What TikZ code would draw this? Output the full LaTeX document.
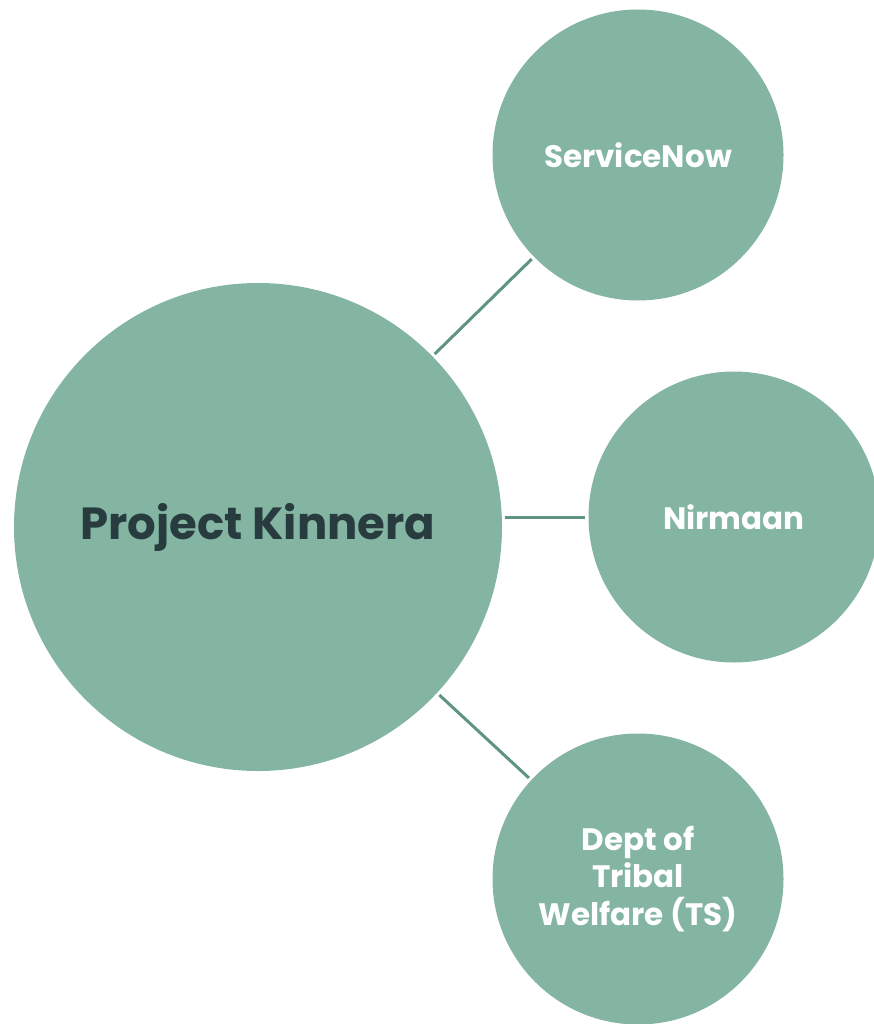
\documentclass[tikz,border=0pt]{standalone}
\usepackage{fontspec}
\setmainfont{Poppins}
\definecolor{bubble}{HTML}{83B5A2}
\definecolor{linkc}{HTML}{5F9483}
\definecolor{darktext}{HTML}{283C40}
\begin{document}
\begin{tikzpicture}[x=1pt,y=-1pt,
  bub/.style={circle,fill=bubble,inner sep=0pt,align=center,text=white,font=\bfseries\fontsize{31}{37.5}\selectfont},
  link/.style={draw=linkc,line width=3pt,shorten <=3pt,shorten >=3pt}]
\useasboundingbox (0,0) rectangle (874,1024);
\begin{scope}
\clip (0,0) rectangle (874,1024);
\node[bub,minimum size=488pt,text=darktext,font=\bfseries\fontsize{45}{54}\selectfont] (main) at (258,527) {Project Kinnera};
\node[bub,minimum size=291pt] (sn) at (638,155) {ServiceNow};
\node[bub,minimum size=291pt] (nir) at (734,517) {Nirmaan};
\node[bub,minimum size=291pt] (dept) at (638,879) {Dept of\\Tribal\\Welfare (TS)};
\end{scope}
\draw[link] (main) -- (sn);
\draw[link] (nir.west -| main.east) -- (nir.west);
\draw[link] (main) -- (dept);
\end{tikzpicture}
\end{document}
